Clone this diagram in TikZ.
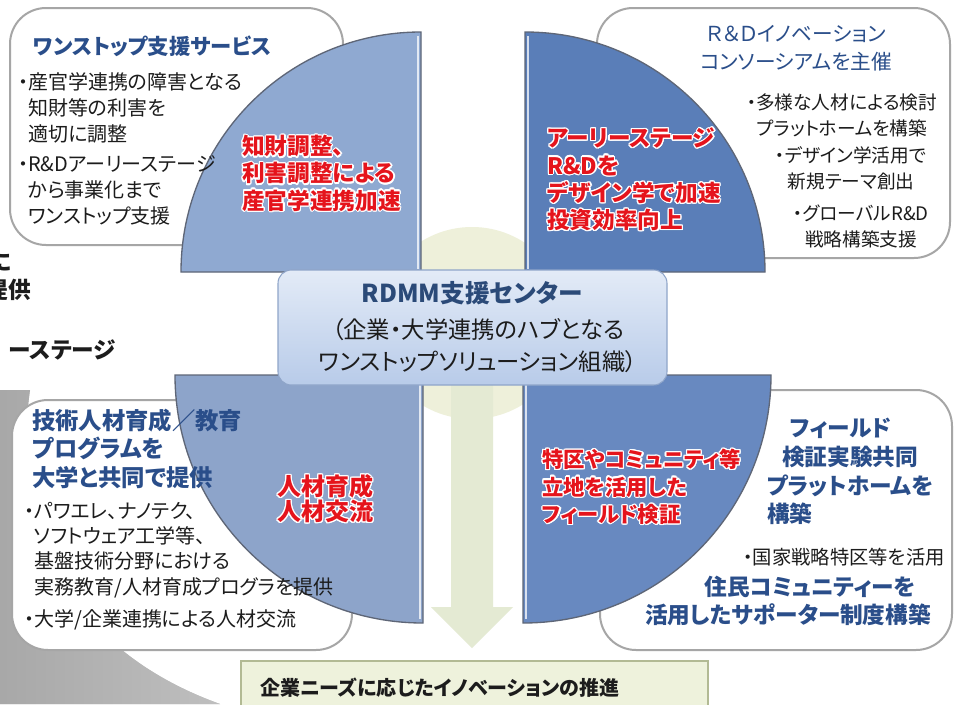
\documentclass[tikz,border=0pt]{standalone}
\usepackage{fontspec}
\setmainfont{Noto Sans CJK JP}[CharacterWidth=AlternateProportional]
\usepackage{contour}
\contourlength{0.9pt}
\newcommand\halo[1]{\contour{white}{#1}}

\definecolor{boxgray}{HTML}{A6A6A6}
\definecolor{edgegray}{HTML}{5E6677}
\definecolor{qtl}{HTML}{8FA9D1}
\definecolor{qtr}{HTML}{5A7EB8}
\definecolor{qbl}{HTML}{8DA4CA}
\definecolor{qbr}{HTML}{6889C0}
\definecolor{hubcream}{HTML}{EEF0DA}
\definecolor{arrowgreen}{HTML}{E4EAD3}
\definecolor{headblue}{HTML}{2A4E8A}
\definecolor{bodyblack}{HTML}{1C1C1C}
\definecolor{alertred}{HTML}{E5141C}
\definecolor{hubtop}{HTML}{E3EBF7}
\definecolor{hubbottom}{HTML}{B8CBE9}
\definecolor{hubborder}{HTML}{8FA5C9}
\definecolor{hubtitle}{HTML}{2B4A78}
\definecolor{footfill}{HTML}{EEF2DC}
\definecolor{footborder}{HTML}{B2BA94}

\begin{document}
\begin{tikzpicture}[x = 0.75pt, y = -0.75pt,
	infobox/.style = {draw = boxgray, line width = 1.5pt, fill = white, rounded corners = 27pt},
	quarter/.style = {draw = edgegray, line width = 1pt},
	shine/.style = {draw = white, opacity = 0.75, line width = 1.2pt},
	headtext/.style = {text = headblue, font = \bfseries\fontsize{17}{21.5}\selectfont, inner sep = 0pt, align = left},
	bodytext/.style = {text = bodyblack, font = \fontsize{15}{19.5}\selectfont, inner sep = 0pt, align = left},
	alerttext/.style = {text = alertred, font = \bfseries\fontsize{17}{20.3}\selectfont, inner sep = 0pt, align = left},
	edgetext/.style = {text = bodyblack, font = \bfseries\fontsize{17}{20}\selectfont, inner sep = 0pt, anchor = east}]
	%Page
	\fill[white] (0, 0) rectangle (954, 704);
	\useasboundingbox (0, 0) rectangle (954, 704);
	\fill[left color = black!18, right color = white, opacity = 0.5] (0, 390) -- (30, 390) .. controls (10, 530) and (70, 650) .. (220, 704) -- (0, 704) -- cycle;
	%Cut-off text at the left edge
	\node[edgetext] (edgeA) at (12, 262) {に};
	\node[edgetext] (edgeB) at (31, 290) {提供};
	\node[edgetext] (edgeC) at (116, 350) {ーステージ};
	%Boxes
	\draw[infobox] (10, 8) rectangle (343, 245);
	\draw[infobox] (597, 8) rectangle (950, 258);
	\draw[infobox] (12, 400) rectangle (352, 650);
	\draw[infobox] (600, 390) rectangle (952, 650);
	%Hub circle and arrow
	\fill[hubcream] (472, 323) circle[radius = 96];
	\fill[arrowgreen] (451, 380) -- (493, 380) -- (493, 607) -- (513, 607) -- (472, 648) -- (431, 607) -- (451, 607) -- cycle;
	%Quarters
		%top left
		\filldraw[quarter, fill = qtl] (421, 272) -- (181, 272) arc[start angle = 180, end angle = 270, radius = 240] -- cycle;
		\draw[shine] (418, 36) -- (418, 269);
		%top right
		\filldraw[quarter, fill = qtr] (525, 272) -- (525, 32) arc[start angle = 270, end angle = 360, radius = 240] -- cycle;
		\draw[shine] (528, 36) -- (528, 269);
		%bottom left
		\filldraw[quarter, fill = qbl] (423, 375) -- (175, 375) arc[start angle = 180, end angle = 90, radius = 248] -- cycle;
		\draw[shine] (420, 378) -- (420, 619);
		%bottom right
		\filldraw[quarter, fill = qbr] (523, 375) -- (523, 623) arc[start angle = 90, end angle = 0, radius = 248] -- cycle;
		\draw[shine] (526, 378) -- (526, 619);
	%Hub box
	\node[draw = hubborder, line width = 0.8pt, rounded corners = 10pt, top color = hubtop, bottom color = hubbottom,
		minimum width = 291.75pt, minimum height = 86.25pt] (hub) at (472.5, 327.5) {};
	\node[text = hubtitle, font = \bfseries\fontsize{18.5}{22}\selectfont, inner sep = 0pt] (hubname) at (472, 293) {RDMM支援センター};
	\node[text = bodyblack, font = \fontsize{17.5}{24}\selectfont, inner sep = 0pt, align = center] (hubnote) at (478, 346)
		{（企業・大学連携のハブとなる\\ワンストップソリューション組織）};
	%Top left
	\node[headtext, font = \bfseries\fontsize{16}{21}\selectfont, anchor = west] (tlhead) at (33, 46) {ワンストップ支援サービス};
	\node[bodytext, anchor = west] (tlbody) at (18, 149)
		{・産官学連携の障害となる\\\hspace{0.5em}知財等の利害を\\\hspace{0.5em}適切に調整\\[3pt]
		・R\&Dアーリーステージ\\\hspace{0.5em}から事業化まで\\\hspace{0.5em}ワンストップ支援};
	\node[alerttext, anchor = west] (tlalert) at (242, 174)
		{\halo{知財調整、}\\\halo{利害調整による}\\\halo{産官学連携加速}};
	%Top right
	\node[headtext, font = \fontsize{15.5}{21}\selectfont, align = center] (trhead) at (796, 48)
		{Ｒ＆Ｄイノベーション\\コンソーシアムを主催};
	\node[bodytext, font = \fontsize{14}{19.5}\selectfont, align = center] (trbodyA) at (842, 115)
		{・多様な人材による検討\\プラットホームを構築};
	\node[bodytext, font = \fontsize{14}{19.5}\selectfont, align = center] (trbodyB) at (851, 168)
		{・デザイン学活用で\\新規テーマ創出};
	\node[bodytext, font = \fontsize{14}{19.5}\selectfont, align = center] (trbodyC) at (861, 226)
		{・グローバルR\&D\\戦略構築支援};
	\node[alerttext, font = \bfseries\fontsize{17}{20.5}\selectfont, anchor = west] (tralert) at (547, 180)
		{\halo{アーリーステージ}\\\halo{R\&Dを}\\\halo{デザイン学で加速}\\\halo{投資効率向上}};
	%Bottom left
	\node[headtext, font = \bfseries\fontsize{17.5}{21.4}\selectfont, anchor = west] (blhead) at (32, 448.5)
		{技術人材育成／教育\\プログラムを\\大学と共同で提供};
	\node[bodytext, font = \fontsize{15}{19}\selectfont, anchor = west] (blbody) at (24, 566)
		{・パワエレ、ナノテク、\\\hspace{0.5em}ソフトウェア工学等、\\\hspace{0.5em}基盤技術分野における\\\hspace{0.5em}実務教育/人材育成プログラを提供\\[5pt]
		・大学/企業連携による人材交流};
	\node[alerttext, font = \bfseries\fontsize{18}{18.75}\selectfont, anchor = west] (blalert) at (277, 499.5)
		{\halo{人材育成}\\\halo{人材交流}};
	%Bottom right
	\node[headtext, anchor = west] (brhead) at (767, 471.5)
		{\hspace{1em}フィールド\\\hspace{0.65em}検証実験共同\\プラットホームを\\構築};
	\node[bodytext, font = \fontsize{14.5}{19}\selectfont, anchor = east] (brbody) at (945, 557) {・国家戦略特区等を活用};
	\node[headtext] (brheadA) at (810, 587) {住民コミュニティーを};
	\node[headtext] (brheadB) at (788, 615) {活用したサポーター制度構築};
	\node[alerttext, font = \bfseries\fontsize{16}{20.6}\selectfont, anchor = west] (bralert) at (542, 487.5)
		{\halo{特区やコミュニティ等}\\\halo{立地を活用した}\\\halo{フィールド検証}};
	%Result
	\draw[draw = footborder, line width = 1.5pt, fill = footfill] (241, 661) rectangle (708, 720);
	\node[text = bodyblack, font = \bfseries\fontsize{15}{19}\selectfont, inner sep = 0pt, anchor = west] (result) at (260, 688)
		{企業ニーズに応じたイノベーションの推進};
\end{tikzpicture}
\end{document}
